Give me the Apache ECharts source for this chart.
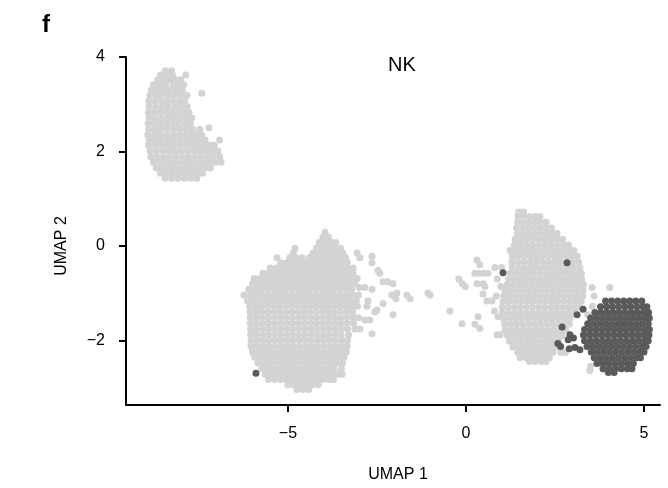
<!DOCTYPE html>
<html>
<head>
<meta charset="utf-8">
<title>UMAP NK</title>
<script src="https://cdn.jsdelivr.net/npm/echarts@6/dist/echarts.min.js"></script>
<style>
  html, body { margin: 0; padding: 0; background: #fff; }
  #chart { width: 668px; height: 488px; }
</style>
</head>
<body>
<div id="chart"></div>
<script>
// tick labels
const xTicks = [-5, 0, 5];
const yTicks = [-2, 0, 2, 4];

// cells, row by row: [y, [x, x, ...]]
// gray cluster top-left
const grayTopRows = [
    [3.71, [-8.44, -8.27]],
    [3.62, [-8.58, -8.4, -8.24, -7.87]],
    [3.52, [-8.66, -8.5, -8.31, -8.15, -8.01]],
    [3.41, [-8.78, -8.6, -8.43, -8.22, -8.07, -7.93]],
    [3.3, [-8.84, -8.67, -8.5, -8.33, -8.14, -7.97]],
    [3.23, [-7.42]],
    [3.19, [-8.88, -8.7, -8.55, -8.36, -8.19, -8.02, -7.84]],
    [3.07, [-8.91, -8.74, -8.56, -8.4, -8.23, -8.05, -7.9]],
    [2.95, [-8.9, -8.72, -8.53, -8.37, -8.18, -8.0, -7.83]],
    [2.83, [-8.92, -8.76, -8.59, -8.41, -8.26, -8.08, -7.9, -7.78]],
    [2.71, [-8.9, -8.73, -8.55, -8.37, -8.2, -8.02, -7.86, -7.7]],
    [2.59, [-8.93, -8.77, -8.6, -8.43, -8.25, -8.08, -7.9, -7.74]],
    [2.5, [-7.22]],
    [2.47, [-8.91, -8.73, -8.56, -8.38, -8.2, -8.03, -7.85, -7.68, -7.48]],
    [2.35, [-8.94, -8.76, -8.6, -8.42, -8.24, -8.06, -7.89, -7.72, -7.57, -7.42]],
    [2.24, [-8.9, -8.72, -8.55, -8.37, -8.2, -8.02, -7.84, -7.66, -7.5, -7.33, -6.92]],
    [2.13, [-8.92, -8.75, -8.58, -8.4, -8.23, -8.05, -7.88, -7.7, -7.53, -7.36, -7.2, -7.07]],
    [2.01, [-8.88, -8.7, -8.52, -8.34, -8.17, -8.0, -7.82, -7.64, -7.47, -7.3, -7.13, -6.97]],
    [1.89, [-8.85, -8.67, -8.5, -8.33, -8.15, -7.97, -7.8, -7.62, -7.45, -7.27, -7.1, -6.92]],
    [1.77, [-8.78, -8.62, -8.44, -8.27, -8.1, -7.92, -7.75, -7.57, -7.4, -7.22, -7.05, -6.88]],
    [1.65, [-8.7, -8.54, -8.36, -8.19, -8.01, -7.84, -7.66, -7.49, -7.32, -7.18]],
    [1.54, [-8.58, -8.42, -8.25, -8.07, -7.9, -7.72, -7.55, -7.4]],
    [1.43, [-8.45, -8.27, -8.1, -7.91, -7.74, -7.56]]
];

// gray cluster bottom-left, with its tail to the right
const grayMidRows = [
    [0.29, [-3.96]],
    [0.18, [-4.02, -3.86]],
    [0.07, [-4.12, -3.95, -3.78, -3.66]],
    [-0.05, [-4.8, -4.2, -4.03, -3.86, -3.69, -3.52]],
    [-0.15, [-4.85, -4.3, -4.13, -3.96, -3.79, -3.62, -3.46, -3.06]],
    [-0.22, [-2.64]],
    [-0.25, [-5.31, -4.95, -4.78, -4.6, -4.4, -4.23, -4.06, -3.89, -3.72, -3.55, -3.38, -2.98]],
    [-0.36, [-5.2, -5.03, -4.86, -4.69, -4.52, -4.35, -4.18, -4.01, -3.84, -3.67, -3.5, -3.33, -2.64]],
    [-0.47, [-5.5, -5.33, -5.16, -4.99, -4.82, -4.65, -4.48, -4.31, -4.14, -3.97, -3.8, -3.63, -3.46, -3.29, -3.17]],
    [-0.52, [-2.47]],
    [-0.58, [-5.7, -5.55, -5.38, -5.21, -5.04, -4.87, -4.7, -4.53, -4.36, -4.19, -4.02, -3.85, -3.68, -3.51, -3.34, -3.17, -2.42]],
    [-0.69, [-5.95, -5.79, -5.62, -5.45, -5.28, -5.11, -4.94, -4.77, -4.6, -4.43, -4.26, -4.09, -3.92, -3.75, -3.58, -3.41, -3.24, -3.06]],
    [-0.76, [-2.33, -2.2]],
    [-0.8, [-6.0, -5.84, -5.67, -5.5, -5.33, -5.16, -4.99, -4.82, -4.65, -4.48, -4.31, -4.14, -3.97, -3.8, -3.63, -3.46, -3.29, -3.12, -2.05]],
    [-0.88, [-3.0, -2.84]],
    [-0.92, [-6.1, -5.93, -5.76, -5.59, -5.42, -5.25, -5.08, -4.91, -4.74, -4.57, -4.4, -4.23, -4.06, -3.89, -3.72, -3.55, -3.38, -3.21, -2.64]],
    [-1.0, [-1.94, -1.07]],
    [-1.04, [-6.24, -6.06, -5.89, -5.72, -5.55, -5.38, -5.21, -5.04, -4.87, -4.7, -4.53, -4.36, -4.19, -4.02, -3.85, -3.68, -3.51, -3.34, -3.17, -3.02, -2.08, -1.66, -1.01]],
    [-1.12, [-1.97, -1.57]],
    [-1.16, [-6.14, -5.97, -5.8, -5.63, -5.46, -5.29, -5.12, -4.95, -4.78, -4.61, -4.44, -4.27, -4.1, -3.93, -3.76, -3.59, -3.42, -3.25, -3.08, -2.75]],
    [-1.22, [-2.33]],
    [-1.28, [-6.08, -5.92, -5.75, -5.58, -5.41, -5.24, -5.07, -4.9, -4.73, -4.56, -4.39, -4.22, -4.05, -3.88, -3.71, -3.54, -3.37, -3.2, -3.05, -2.78]],
    [-1.36, [-2.5]],
    [-1.4, [-6.07, -5.9, -5.73, -5.56, -5.39, -5.22, -5.05, -4.88, -4.71, -4.54, -4.37, -4.2, -4.03, -3.86, -3.69, -3.52, -3.35, -3.18, -2.56]],
    [-1.46, [-2.05]],
    [-1.52, [-6.06, -5.89, -5.72, -5.55, -5.38, -5.21, -5.04, -4.87, -4.7, -4.53, -4.36, -4.19, -4.02, -3.85, -3.68, -3.51, -3.34, -3.17, -3.02]],
    [-1.57, [-2.84, -2.7]],
    [-1.64, [-6.06, -5.9, -5.73, -5.56, -5.39, -5.22, -5.05, -4.88, -4.71, -4.54, -4.37, -4.2, -4.03, -3.86, -3.69, -3.52, -3.35, -3.16]],
    [-1.76, [-6.05, -5.88, -5.71, -5.54, -5.37, -5.2, -5.03, -4.86, -4.69, -4.52, -4.35, -4.18, -4.01, -3.84, -3.67, -3.5, -3.33, -3.12, -2.98]],
    [-1.86, [-2.64]],
    [-1.88, [-6.05, -5.89, -5.72, -5.55, -5.38, -5.21, -5.04, -4.87, -4.7, -4.53, -4.36, -4.19, -4.02, -3.85, -3.68, -3.51, -3.3]],
    [-2.0, [-6.04, -5.87, -5.7, -5.53, -5.36, -5.19, -5.02, -4.85, -4.68, -4.51, -4.34, -4.17, -4.0, -3.83, -3.66, -3.49, -3.33]],
    [-2.12, [-6.04, -5.88, -5.71, -5.54, -5.37, -5.2, -5.03, -4.86, -4.69, -4.52, -4.35, -4.18, -4.01, -3.84, -3.67, -3.5, -3.34]],
    [-2.24, [-6.0, -5.84, -5.67, -5.5, -5.33, -5.16, -4.99, -4.82, -4.65, -4.48, -4.31, -4.14, -3.97, -3.8, -3.63, -3.46, -3.36]],
    [-2.36, [-5.94, -5.78, -5.61, -5.44, -5.27, -5.1, -4.93, -4.76, -4.59, -4.42, -4.25, -4.08, -3.91, -3.74, -3.57, -3.42]],
    [-2.48, [-5.84, -5.68, -5.51, -5.34, -5.17, -5.0, -4.83, -4.66, -4.49, -4.32, -4.15, -3.98, -3.81, -3.64, -3.47]],
    [-2.6, [-5.74, -5.58, -5.41, -5.24, -5.07, -4.9, -4.73, -4.56, -4.39, -4.22, -4.05, -3.88, -3.71, -3.5]],
    [-2.72, [-5.64, -5.47, -5.3, -5.13, -4.96, -4.79, -4.62, -4.45, -4.28, -4.11, -3.94, -3.77, -3.6, -3.48]],
    [-2.83, [-5.55, -5.38, -5.21, -5.04, -4.87, -4.7, -4.53, -4.36, -4.19, -4.02, -3.85, -3.72]],
    [-2.94, [-5.0, -4.83, -4.66, -4.49, -4.32, -4.15]],
    [-3.04, [-4.75, -4.58, -4.42]]
];

// gray cluster on the right, with the loose cells to its left
const grayRightRows = [
    [0.72, [1.48, 1.62]],
    [0.62, [1.46, 1.62, 1.79, 1.95, 2.08]],
    [0.5, [1.45, 1.6, 1.77, 1.94, 2.1, 2.25]],
    [0.38, [1.42, 1.58, 1.75, 1.92, 2.08, 2.25, 2.4]],
    [0.26, [1.44, 1.61, 1.78, 1.95, 2.12, 2.29, 2.46, 2.56]],
    [0.14, [1.38, 1.55, 1.72, 1.9, 2.07, 2.24, 2.41, 2.58, 2.72]],
    [0.02, [1.36, 1.52, 1.69, 1.86, 2.04, 2.21, 2.38, 2.55, 2.72, 2.88]],
    [-0.1, [1.24, 1.4, 1.58, 1.75, 1.92, 2.09, 2.26, 2.43, 2.6, 2.77, 2.95, 3.03]],
    [-0.22, [1.3, 1.47, 1.64, 1.81, 1.98, 2.15, 2.32, 2.5, 2.67, 2.84, 3.0, 3.12]],
    [-0.3, [0.31]],
    [-0.34, [1.29, 1.46, 1.63, 1.8, 1.97, 2.14, 2.31, 2.48, 2.65, 2.82, 2.99, 3.16]],
    [-0.4, [0.39]],
    [-0.46, [0.81, 1.0, 1.3, 1.48, 1.65, 1.82, 1.99, 2.16, 2.34, 2.51, 2.68, 2.85, 3.02, 3.2]],
    [-0.58, [0.25, 0.36, 0.5, 0.62, 1.24, 1.41, 1.58, 1.75, 1.92, 2.1, 2.27, 2.44, 2.61, 2.78, 2.95, 3.12, 3.24]],
    [-0.7, [-0.2, 0.88, 1.2, 1.37, 1.54, 1.71, 1.88, 2.05, 2.22, 2.39, 2.56, 2.73, 2.9, 3.07, 3.25]],
    [-0.8, [-0.1, 0.31, 0.48]],
    [-0.82, [1.16, 1.33, 1.5, 1.67, 1.84, 2.01, 2.18, 2.35, 2.52, 2.69, 2.86, 3.03, 3.2, 3.3]],
    [-0.86, [-0.02, 0.53, 0.98]],
    [-0.88, [3.54, 4.04]],
    [-0.94, [1.1, 1.27, 1.44, 1.61, 1.78, 1.95, 2.12, 2.29, 2.46, 2.63, 2.8, 2.97, 3.14, 3.29]],
    [-1.02, [0.48]],
    [-1.06, [0.85, 1.06, 1.23, 1.4, 1.57, 1.74, 1.91, 2.08, 2.25, 2.42, 2.59, 2.76, 2.93, 3.1, 3.28, 3.6]],
    [-1.17, [0.59, 0.73]],
    [-1.18, [1.04, 1.21, 1.38, 1.55, 1.72, 1.89, 2.06, 2.23, 2.4, 2.57, 2.74, 2.91, 3.08, 3.24]],
    [-1.28, [3.55]],
    [-1.3, [1.02, 1.19, 1.36, 1.53, 1.7, 1.87, 2.04, 2.21, 2.38, 2.55, 2.72, 2.89, 3.06, 3.18]],
    [-1.38, [-0.45, 0.8]],
    [-1.42, [1.02, 1.19, 1.36, 1.53, 1.7, 1.87, 2.04, 2.21, 2.38, 2.55, 2.72, 2.89, 3.04]],
    [-1.46, [3.42]],
    [-1.5, [0.34, 0.9]],
    [-1.54, [1.05, 1.22, 1.39, 1.56, 1.73, 1.9, 2.07, 2.24, 2.41, 2.58, 2.75, 2.92]],
    [-1.65, [-0.11]],
    [-1.66, [0.25, 1.08, 1.25, 1.42, 1.59, 1.76, 1.93, 2.1, 2.27, 2.44, 2.61, 2.78, 2.9]],
    [-1.75, [0.39]],
    [-1.78, [1.1, 1.27, 1.44, 1.61, 1.78, 1.95, 2.12, 2.29, 2.46, 2.63, 2.8]],
    [-1.88, [0.87, 0.96]],
    [-1.9, [1.16, 1.33, 1.5, 1.67, 1.84, 2.01, 2.18, 2.35, 2.52, 2.7]],
    [-2.02, [1.22, 1.39, 1.56, 1.73, 1.9, 2.07, 2.24, 2.41, 2.6]],
    [-2.14, [1.32, 1.49, 1.66, 1.83, 2.0, 2.17, 2.34, 2.5]],
    [-2.26, [1.45, 1.62, 1.79, 1.96, 2.13, 2.3, 2.44, 2.66, 2.79]],
    [-2.37, [1.52, 1.7, 1.87, 2.04, 2.21, 2.34]],
    [-2.45, [1.78, 1.95, 2.12, 2.25]],
    [-2.55, [3.5]],
    [-2.64, [3.48]]
];

// dark (NK) cells
const darkRows = [
    [-1.17, [3.92, 4.09, 4.26, 4.43, 4.6, 4.77, 4.94]],
    [-1.29, [3.78, 3.95, 4.12, 4.29, 4.46, 4.63, 4.8, 4.97, 5.08]],
    [-1.41, [3.62, 3.79, 3.96, 4.13, 4.3, 4.47, 4.64, 4.81, 4.98, 5.13]],
    [-1.53, [3.5, 3.67, 3.84, 4.01, 4.18, 4.35, 4.52, 4.69, 4.86, 5.03, 5.15]],
    [-1.65, [3.42, 3.59, 3.76, 3.93, 4.1, 4.27, 4.44, 4.61, 4.78, 4.95, 5.12]],
    [-1.77, [3.33, 3.5, 3.67, 3.84, 4.01, 4.18, 4.35, 4.52, 4.69, 4.86, 5.03, 5.15]],
    [-1.89, [3.3, 3.47, 3.64, 3.81, 3.98, 4.15, 4.32, 4.49, 4.66, 4.83, 5.0, 5.14]],
    [-2.01, [3.33, 3.5, 3.67, 3.84, 4.01, 4.18, 4.35, 4.52, 4.69, 4.86, 5.03, 5.12]],
    [-2.13, [3.4, 3.57, 3.74, 3.91, 4.08, 4.25, 4.42, 4.59, 4.76, 4.93, 5.06]],
    [-2.25, [3.52, 3.69, 3.86, 4.03, 4.2, 4.37, 4.54, 4.71, 4.88, 5.0]],
    [-2.37, [3.6, 3.77, 3.94, 4.11, 4.28, 4.45, 4.62, 4.79, 4.9]],
    [-2.49, [3.68, 3.85, 4.02, 4.19, 4.36, 4.53, 4.7]],
    [-2.6, [3.85, 4.02, 4.19, 4.36, 4.53, 4.66]],
    [-2.68, [4.0, 4.16]]
];

// dark cells scattered outside the main dark blob: [x, y]
const darkStray = [
    [-5.9, -2.7], [1.04, -0.57], [2.84, -0.36], [3.29, -1.34], [3.12, -1.46],
    [2.7, -1.72], [2.92, -1.88], [2.87, -1.99], [3.02, -1.95], [2.58, -2.07],
    [2.66, -2.13], [2.9, -2.18], [3.06, -2.15], [3.2, -2.2]
];

const rowsToPoints = rows => {
    let pts = [];
    for (let [y, xs] of rows) {
        for (let x of xs) {
            pts.push([x, y]);
        }
    }
    return pts;
};

const grayData = [
    ...rowsToPoints(grayTopRows),
    ...rowsToPoints(grayMidRows),
    ...rowsToPoints(grayRightRows)
];
const darkData = [...rowsToPoints(darkRows), ...darkStray];

const fontFamily = "'Liberation Sans', Arial, Helvetica, sans-serif";
const minus = v => String(v).replace("-", "\u2212");

let chart = echarts.init(document.getElementById("chart"));

const option = {
    animation: false,
    backgroundColor: "#ffffff",
    textStyle: { fontFamily },
    title: [
        {
            text: "f",
            left: 37,
            top: 8,
            textStyle: { fontSize: 24, fontWeight: "bold", color: "#000", fontFamily }
        },
        {
            text: "NK",
            left: 383,
            top: 50,
            textStyle: { fontSize: 20, fontWeight: "normal", color: "#000", fontFamily }
        }
    ],
    grid: {
        left: 126,
        right: 8,
        top: 57,
        bottom: 79,
        containLabel: false
    },
    xAxis: {
        type: "value",
        min: -9.55,
        max: 5.45,
        name: "UMAP 1",
        nameLocation: "middle",
        nameGap: 62,
        nameTextStyle: { fontSize: 16, color: "#000", fontFamily, padding: [0, 0, 0, 10] },
        axisLine: { show: true, onZero: false, lineStyle: { color: "#000", width: 2 } },
        axisTick: {
            show: true,
            length: 7,
            customValues: xTicks,
            lineStyle: { color: "#000", width: 2 }
        },
        axisLabel: {
            customValues: xTicks,
            margin: 21,
            fontSize: 16,
            color: "#000",
            fontFamily,
            formatter: minus
        },
        splitLine: { show: false }
    },
    yAxis: {
        type: "value",
        min: -3.37,
        max: 4,
        name: "UMAP 2",
        nameLocation: "middle",
        nameGap: 56,
        nameTextStyle: { fontSize: 16, color: "#000", fontFamily, padding: [0, 30, 0, 0] },
        axisLine: { show: true, onZero: false, lineStyle: { color: "#000", width: 2 } },
        axisTick: {
            show: true,
            length: 7,
            customValues: yTicks,
            lineStyle: { color: "#000", width: 2 }
        },
        axisLabel: {
            customValues: yTicks,
            margin: 21,
            fontSize: 16,
            color: "#000",
            fontFamily,
            formatter: minus
        },
        splitLine: { show: false }
    },
    series: [
        {
            name: "other",
            type: "scatter",
            data: grayData,
            symbolSize: 7,
            itemStyle: { color: "#d3d3d3", opacity: 1 },
            silent: true
        },
        {
            name: "NK",
            type: "scatter",
            data: darkData,
            symbolSize: 7,
            itemStyle: { color: "#5a5a5a", opacity: 1 },
            silent: true
        }
    ]
};

chart.setOption(option);
</script>
</body>
</html>
